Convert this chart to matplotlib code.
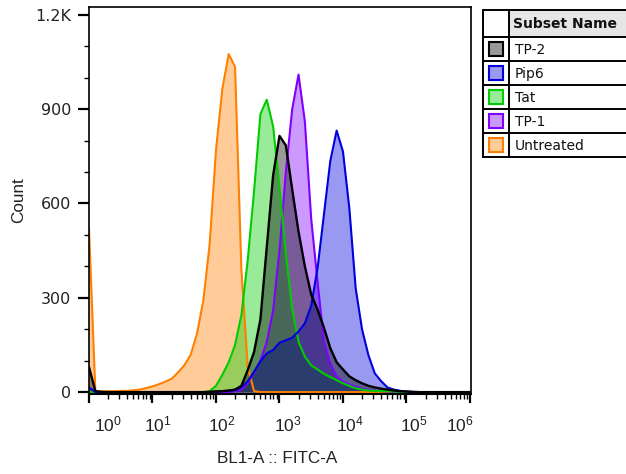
import numpy as np
import matplotlib
matplotlib.use("Agg")
import matplotlib.pyplot as plt
from matplotlib.patches import Rectangle
from matplotlib.ticker import FixedLocator, FixedFormatter, LogLocator, MultipleLocator, NullFormatter
from matplotlib.transforms import ScaledTranslation

plt.rcParams['font.family'] = ['Liberation Sans', 'DejaVu Sans']

# Histogram bin centres in decades (log10 of BL1-A :: FITC-A), 0.1-decade steps
log_bins = np.arange(61) / 10.0

# Subset names (legend order) and their colours
subsets = ["TP-2", "Pip6", "Tat", "TP-1", "Untreated"]
line_colors = ["#000000", "#0000dd", "#00cc00", "#8000ff", "#ff8000"]

# Counts per bin, one list per subset (61 bins: 0.0 .. 6.0 decades)
tp2_counts = [80, 3, 1, 0, 0, 0, 0, 0, 0, 0,
              0, 0, 0, 0, 0, 0, 0, 0, 0, 1,
              2, 3, 5, 8, 20, 70, 128, 232, 462, 690,
              815, 785, 645, 510, 400, 310, 262, 205, 140, 95,
              72, 50, 38, 28, 20, 15, 11, 8, 5, 3,
              2, 1, 0, 0, 0, 0, 0, 0, 0, 0,
              0]
pip6_counts = [15, 0, 0, 0, 0, 0, 0, 0, 0, 0,
               0, 0, 0, 0, 0, 0, 0, 0, 0, 0,
               2, 3, 4, 6, 15, 35, 65, 98, 123, 134,
               157, 165, 173, 193, 219, 275, 395, 565, 735, 832,
               765, 585, 330, 200, 118, 60, 35, 15, 8, 4,
               2, 0, 0, 0, 0, 0, 0, 0, 0, 0,
               0]
tat_counts = [0, 0, 0, 0, 0, 0, 0, 0, 0, 0,
              0, 0, 0, 0, 0, 0, 0, 0, 0, 3,
              20, 55, 95, 150, 245, 420, 640, 885, 930, 845,
              650, 440, 265, 160, 113, 85, 72, 58, 48, 38,
              28, 20, 12, 8, 5, 4, 3, 3, 2, 1,
              0, 0, 0, 0, 0, 0, 0, 0, 0, 0,
              0]
tp1_counts = [0, 0, 0, 0, 0, 0, 0, 0, 0, 0,
              0, 0, 0, 0, 0, 0, 0, 0, 0, 0,
              0, 0, 0, 3, 8, 30, 62, 100, 160, 260,
              450, 700, 900, 1010, 860, 550, 350, 160, 90, 50,
              33, 24, 17, 11, 7, 5, 3, 2, 1, 0,
              0, 0, 0, 0, 0, 0, 0, 0, 0, 0,
              0]
untreated_counts = [520, 4, 2, 3, 3, 4, 4, 6, 8, 13,
                    18, 25, 33, 42, 62, 85, 118, 185, 290, 470,
                    770, 965, 1075, 1035, 390, 80, 3, 0, 0, 0,
                    0, 0, 0, 0, 0, 0, 0, 0, 0, 0,
                    0, 0, 0, 0, 0, 0, 0, 0, 0, 0,
                    0, 0, 0, 0, 0, 0, 0, 0, 0, 0,
                    0]
series_counts = [tp2_counts, pip6_counts, tat_counts, tp1_counts, untreated_counts]

# Axis ticks
y_ticks = [0, 300, 600, 900, 1200]
y_tick_labels = ["0", "300", "600", "900", "1.2K"]
x_decades = [0, 1, 2, 3, 4, 5, 6]

W, H = 626, 474
fig = plt.figure(figsize=(W / 100, H / 100), dpi=100)
ax = fig.add_axes([89 / W, 1 - 394 / H, (471 - 89) / W, (394 - 7) / H])

x_vals = 10.0 ** log_bins
# draw back to front: last legend entry at the bottom, first on top
draw_order = [4, 3, 2, 1, 0]
for i in draw_order:
    c = line_colors[i]
    y = np.array(series_counts[i], dtype=float)
    ax.fill_between(x_vals, 0, y, color=c, alpha=0.4, lw=0)
    ax.plot(x_vals, y, color=c, lw=1.7 if i == 0 else 1.5, solid_joinstyle="round")

ax.set_xscale("log")
ax.set_xlim(1, 10 ** 6.016)
ax.set_ylim(-6, 1225)

# y axis
ax.yaxis.set_major_locator(FixedLocator(y_ticks))
ax.yaxis.set_major_formatter(FixedFormatter(y_tick_labels))
ax.yaxis.set_minor_locator(MultipleLocator(100))
ax.tick_params(axis="y", which="major", length=8, width=1.6, pad=5,
               labelsize=11.5, labelcolor="#222222")
ax.tick_params(axis="y", which="minor", length=3.8, width=1.0)
for lab in ax.get_yticklabels():
    lab.set_family("DejaVu Sans")

# x axis
ax.xaxis.set_major_locator(FixedLocator([10.0 ** d for d in x_decades]))
ax.xaxis.set_major_formatter(FixedFormatter([r"$\mathregular{10^{%d}}$" % d for d in x_decades]))
ax.xaxis.set_minor_locator(LogLocator(base=10, subs=np.arange(2, 10), numticks=30))
ax.xaxis.set_minor_formatter(NullFormatter())
ax.tick_params(axis="x", which="major", length=6.5, width=1.6, pad=8,
               labelsize=12.5, labelcolor="#222222")
ax.tick_params(axis="x", which="minor", length=3.6, width=1.0)
label_shift_px = [19, 5, 6, 8, 7, 7, -10]
for lab, dx in zip(ax.get_xticklabels(), label_shift_px):
    lab.set_transform(lab.get_transform() + ScaledTranslation(dx / 100, 0, fig.dpi_scale_trans))

for s in ax.spines.values():
    s.set_linewidth(1.2)
ax.spines["bottom"].set_linewidth(1.5)

ax.set_ylabel("Count", fontsize=12.3, color="#222222")
ax.yaxis.set_label_coords(-0.165, 0.5)
ax.set_xlabel("BL1-A :: FITC-A", fontsize=12.3, color="#222222")
ax.xaxis.set_label_coords(0.492, -0.148)

# Legend table
tw, th = 143, 148
leg = fig.add_axes([483 / W, 1 - (10 + th) / H, tw / W, th / H])
leg.set_xlim(0, tw)
leg.set_ylim(th, 0)
leg.axis("off")
head_h, row_h, sw_col = 27, 24, 26
leg.add_patch(Rectangle((sw_col, 0), tw - sw_col, head_h, facecolor="#e6e6e6", edgecolor="none"))
leg.text(sw_col + 4, head_h / 2 + 1, "Subset Name", fontsize=10, fontweight="bold",
         family="DejaVu Sans", va="center", ha="left", color="#111111")
row_edges = [0, head_h] + [head_h + row_h * (k + 1) for k in range(len(subsets))]
for yy in row_edges:
    leg.plot([0, tw], [yy, yy], color="black", lw=1.4, clip_on=False, solid_capstyle="butt")
for xx in [0, sw_col]:
    leg.plot([xx, xx], [0, row_edges[-1]], color="black", lw=1.4, clip_on=False)
for k, (name, c) in enumerate(zip(subsets, line_colors)):
    yc = head_h + row_h * k + row_h / 2
    leg.add_patch(Rectangle((sw_col / 2 - 7, yc - 7), 14, 14, facecolor=c, alpha=0.4, edgecolor="none"))
    leg.add_patch(Rectangle((sw_col / 2 - 7, yc - 7), 14, 14, facecolor="none", edgecolor=c, lw=1.5))
    leg.text(sw_col + 6, yc + 1, name, fontsize=10, family="DejaVu Sans",
             va="center", ha="left", color="#111111")

fig.savefig("out.png", dpi=100)
